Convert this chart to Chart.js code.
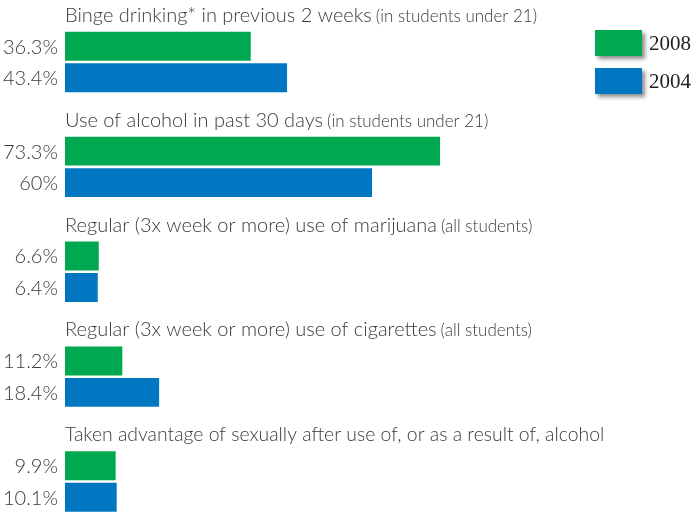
<!DOCTYPE html>
<html>
<head>
<meta charset="utf-8">
<script src="https://cdn.jsdelivr.net/npm/chart.js@4.4.1/dist/chart.umd.min.js"></script>
<style>
  html, body { margin: 0; padding: 0; background: #fff; }
  #wrap { width: 695px; height: 513px; position: relative; }
</style>
</head>
<body>
<div id="wrap"><canvas id="chart"></canvas></div>
<script>
// Dados do gráfico
const titulos = [
    'Binge drinking* in previous 2 weeks',
    'Use of alcohol in past 30 days',
    'Regular (3x week or more) use of marijuana',
    'Regular (3x week or more) use of cigarettes',
    'Taken advantage of sexually after use of, or as a result of, alcohol'
];
const subtitulos = [
    '(in students under 21)',
    '(in students under 21)',
    '(all students)',
    '(all students)',
    ''
];
const anos = ['2008', '2004'];
const valores2008 = [36.3, 73.3, 6.6, 11.2, 9.9];
const valores2004 = [43.4, 60, 6.4, 18.4, 10.1];

const verde = '#00a94f';
const azul = '#0077c0';
const corTexto = '#3a3a3a';
const fonteTexto = 'Lato';

// Plugin que desenha os títulos de cada grupo e os valores à esquerda das barras
const rotulosPlugin = {
    id: 'rotulos',
    afterDatasetsDraw(chart) {
        const ctx = chart.ctx;
        const metaVerde = chart.getDatasetMeta(0);
        const metaAzul = chart.getDatasetMeta(1);
        ctx.save();
        ctx.fillStyle = corTexto;

        metaVerde.data.forEach((bar, i) => {
            const topo = bar.y - bar.height / 2;
            const x0 = chart.scales.x.getPixelForValue(0);

            // título do grupo (o último é um pouco mais estreito no original)
            ctx.textAlign = 'left';
            ctx.textBaseline = 'alphabetic';
            ctx.font = '300 ' + (i === 4 ? 19.4 : 20) + 'px ' + fonteTexto;
            ctx.fillText(titulos[i], x0, topo - 10);
            if (subtitulos[i]) {
                const w = ctx.measureText(titulos[i]).width + 4;
                ctx.font = '300 17px ' + fonteTexto;
                ctx.fillText(subtitulos[i], x0 + w, topo - 10);
            }

            // valores
            ctx.font = '300 20px ' + fonteTexto;
            ctx.textAlign = 'right';
            ctx.textBaseline = 'middle';
            ctx.fillText(valores2008[i] + '%', x0 - 7, bar.y + 1);
            const barAzul = metaAzul.data[i];
            ctx.fillText(valores2004[i] + '%', x0 - 7, barAzul.y + 1);
        });
        ctx.restore();
    }
};

// Plugin da legenda (canto superior direito, com sombra)
const legendaPlugin = {
    id: 'legenda',
    afterDraw(chart) {
        const ctx = chart.ctx;
        ctx.save();
        chart.data.datasets.forEach((ds, i) => {
            const y = 30 + i * 38;
            ctx.shadowColor = 'rgba(0, 0, 0, 0.45)';
            ctx.shadowBlur = 4;
            ctx.shadowOffsetX = 3;
            ctx.shadowOffsetY = 3;
            ctx.fillStyle = ds.backgroundColor;
            ctx.fillRect(595, y, 47, 26);
            ctx.shadowColor = 'transparent';
            ctx.fillStyle = '#222';
            ctx.font = '21px "Liberation Serif"';
            ctx.textAlign = 'left';
            ctx.textBaseline = 'middle';
            ctx.fillText(ds.label, 649, y + 14);
        });
        ctx.restore();
    }
};

const ctx = document.getElementById('chart').getContext('2d');
new Chart(ctx, {
    type: 'bar',
    data: {
        datasets: [{
            label: anos[0],
            data: valores2008.map((v, i) => ({ x: v, y: i })),
            backgroundColor: verde
        }, {
            label: anos[1],
            data: valores2004.map((v, i) => ({ x: v, y: i })),
            backgroundColor: azul
        }]
    },
    options: {
        indexAxis: 'y',
        responsive: true,
        maintainAspectRatio: false,
        animation: false,
        layout: { padding: { left: 65, right: 16, top: 0, bottom: 0 } },
        datasets: {
            bar: { categoryPercentage: 0.6, barPercentage: 0.92 }
        },
        scales: {
            x: { display: false, min: 0, max: 120 },
            y: {
                type: 'linear',
                display: false,
                offset: false,
                reverse: true,
                min: -0.591,
                max: 4.3,
                afterBuildTicks: (escala) => {
                    escala.ticks = titulos.map((t, i) => ({ value: i }));
                }
            }
        },
        plugins: {
            legend: { display: false },
            tooltip: { enabled: false }
        }
    },
    plugins: [rotulosPlugin, legendaPlugin]
});
</script>
</body>
</html>
